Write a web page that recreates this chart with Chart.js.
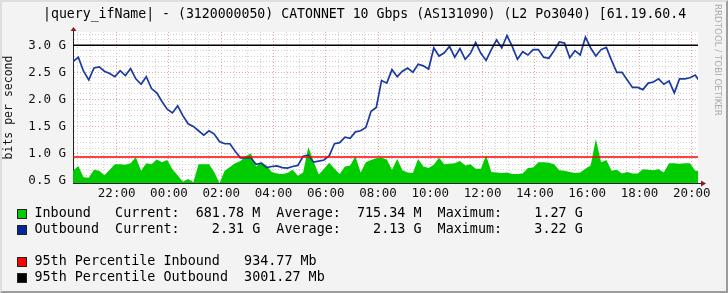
<!DOCTYPE html>
<html lang="en">
<head>
  <meta charset="UTF-8">
  <title>CATONNET 10 Gbps - traffic</title>
  <script src="https://cdn.jsdelivr.net/npm/chart.js"></script>
  <style>
    body {
      margin: 0;
      background-color: #f3f3f3;
    }
    .graph {
      position: relative;
      width: 728px;
      height: 293px;
      background-color: #f3f3f3;
      font-family: 'DejaVu Sans Mono', monospace;
      color: #000;
      overflow: hidden;
    }
    .graph canvas {
      position: absolute;
      left: 0;
      top: 0;
    }
    .frame {
      position: absolute;
      left: 0;
      top: 0;
      width: 728px;
      height: 293px;
      box-sizing: border-box;
      border-top: 2px solid #dedede;
      border-left: 2px solid #dedede;
      border-right: 2px solid #9c9c9c;
      border-bottom: 2px solid #9c9c9c;
      pointer-events: none;
    }
    .title {
      position: absolute;
      left: 43px;
      top: 6px;
      font-size: 13.2px;
      line-height: 16px;
      white-space: pre;
    }
    .credit {
      position: absolute;
      left: 713px;
      top: 4px;
      writing-mode: vertical-rl;
      font-family: 'DejaVu Sans', sans-serif;
      font-size: 8.7px;
      line-height: 10px;
      color: #ababab;
      white-space: pre;
    }
    .row {
      position: absolute;
      left: 0;
      height: 16px;
      width: 728px;
      font-size: 13.4px;
      line-height: 16px;
      white-space: pre;
    }
    .row .swatch {
      position: absolute;
      left: 17px;
      top: 4px;
      width: 8px;
      height: 8px;
      border: 1px solid #222;
    }
    .row .text {
      position: absolute;
      left: 34.5px;
      top: 0;
    }
  </style>
</head>
<body>
  <div class="graph">
    <canvas id="trafficChart" width="728" height="293"></canvas>
    <div class="title">|query_ifName| - (3120000050) CATONNET 10 Gbps (AS131090) (L2 Po3040) [61.19.60.4</div>
    <div class="credit">RRDTOOL / TOBI OETIKER</div>

    <div class="row" style="top:205px"><span class="swatch" style="background:#00cc00"></span><span class="text">Inbound   Current:  681.78 M  Average:  715.34 M  Maximum:    1.27 G</span></div>
    <div class="row" style="top:221px"><span class="swatch" style="background:#002a97"></span><span class="text">Outbound  Current:    2.31 G  Average:    2.13 G  Maximum:    3.22 G</span></div>
    <div class="row" style="top:253px"><span class="swatch" style="background:#ff0000"></span><span class="text">95th Percentile Inbound   934.77 Mb</span></div>
    <div class="row" style="top:269px"><span class="swatch" style="background:#000000"></span><span class="text">95th Percentile Outbound  3001.27 Mb</span></div>

    <div class="frame"></div>
  </div>

  <script>
    // samples every 12 minutes, first one at 20:20 (values in Gbit/s)
    const startMinute = 20 * 60 + 20;
    const stepMinutes = 12;

    const inbound = [
      0.68, 0.77, 0.56, 0.55, 0.70, 0.68, 0.60, 0.70, 0.80, 0.80,
      0.79, 0.82, 0.93, 0.68, 0.82, 0.80, 0.89, 0.84, 0.88, 0.71,
      0.60, 0.48, 0.53, 0.47, 0.80, 0.80, 0.80, 0.66, 0.45, 0.68,
      0.75, 0.82, 0.86, 0.95, 1.00, 0.76, 0.84, 0.78, 0.66, 0.63,
      0.62, 0.64, 0.70, 0.59, 0.65, 1.12, 0.85, 0.61, 0.72, 0.83,
      0.72, 0.62, 0.76, 0.78, 0.95, 0.65, 0.84, 0.88, 0.91, 0.92,
      0.89, 0.70, 0.90, 0.69, 0.65, 0.64, 0.90, 0.76, 0.73, 0.79,
      0.92, 0.80, 0.81, 0.82, 0.86, 0.78, 0.80, 0.72, 0.72, 0.97,
      0.66, 0.65, 0.64, 0.65, 0.62, 0.62, 0.63, 0.73, 0.74, 0.84,
      0.84, 0.83, 0.80, 0.69, 0.68, 0.66, 0.64, 0.65, 0.72, 0.78,
      1.27, 0.84, 0.88, 0.68, 0.70, 0.63, 0.66, 0.63, 0.63, 0.71,
      0.70, 0.69, 0.71, 0.65, 0.82, 0.82, 0.81, 0.82, 0.82, 0.68,
      0.68
    ];

    const outbound = [
      2.70, 2.78, 2.52, 2.36, 2.58, 2.60, 2.52, 2.48, 2.42, 2.53,
      2.44, 2.57, 2.38, 2.28, 2.42, 2.20, 2.12, 1.96, 1.82, 1.75,
      1.88, 1.70, 1.55, 1.50, 1.42, 1.34, 1.42, 1.36, 1.22, 1.18,
      1.18, 1.04, 0.92, 0.92, 0.92, 0.80, 0.82, 0.74, 0.76, 0.77,
      0.74, 0.73, 0.76, 0.78, 0.95, 0.97, 0.84, 0.86, 0.88, 0.96,
      1.18, 1.20, 1.30, 1.28, 1.40, 1.42, 1.48, 1.78, 1.85, 2.35,
      2.30, 2.55, 2.42, 2.52, 2.58, 2.50, 2.65, 2.62, 2.56, 2.95,
      2.80, 2.86, 2.98, 2.78, 2.94, 2.74, 2.85, 3.05, 2.85, 2.72,
      2.92, 3.10, 2.95, 3.18, 2.98, 2.74, 2.88, 2.82, 2.92, 2.92,
      2.78, 2.76, 2.90, 3.06, 3.04, 2.77, 2.90, 2.82, 3.15, 2.95,
      2.80, 2.92, 2.96, 2.72, 2.50, 2.50, 2.36, 2.22, 2.22, 2.18,
      2.30, 2.32, 2.38, 2.28, 2.34, 2.12, 2.38, 2.38, 2.40, 2.45,
      2.31
    ];

    // 95th percentile lines (Gbit/s)
    const p95Inbound = 0.93477;
    const p95Outbound = 3.00127;

    // axis labels
    const yTickValues = [0.5, 1.0, 1.5, 2.0, 2.5, 3.0];
    const yTickLabels = ['0.5 G', '1.0 G', '1.5 G', '2.0 G', '2.5 G', '3.0 G'];
    const xTickValues = [2, 4, 6, 8, 10, 12, 14, 16, 18, 20, 22, 24]; // hours after 20:00
    const xTickLabels = ['22:00', '00:00', '02:00', '04:00', '06:00', '08:00', '10:00', '12:00', '14:00', '16:00', '18:00', '20:00'];

    const X_MIN = 0.33, X_MAX = 24.24;
    const Y_MIN = 0.455, Y_MAX = 3.245;

    // hours after 20:00 for each sample
    const sampleHours = inbound.map((v, i) => (startMinute + i * stepMinutes) / 60 - 20);

    function toPoints(values) {
      return values.map((v, i) => ({ x: sampleHours[i], y: v }));
    }

    function findLabel(values, labels, v) {
      const k = values.findIndex(t => Math.abs(t - v) < 1e-6);
      return k >= 0 ? labels[k] : '';
    }

    const isMajorY = v => yTickValues.some(t => Math.abs(t - v) < 1e-6);
    const isMajorX = v => xTickValues.some(t => Math.abs(t - v) < 1e-6);

    const monoFont = { family: "'DejaVu Sans Mono', monospace", size: 12.5 };

    // white plot area like rrdtool's canvas
    const plotBackground = {
      id: 'plotBackground',
      beforeDraw(chart) {
        const { ctx, chartArea: a } = chart;
        ctx.save();
        ctx.fillStyle = '#ffffff';
        ctx.fillRect(a.left, a.top, a.right - a.left, a.bottom - a.top);
        ctx.restore();
      }
    };

    // little arrows at the end of both axes
    const axisArrows = {
      id: 'axisArrows',
      afterDraw(chart) {
        const { ctx, chartArea: a } = chart;
        const lx = Math.round(a.left) + 0.5;
        const by = Math.round(a.bottom) + 0.5;
        ctx.save();
        ctx.strokeStyle = '#222';
        ctx.lineWidth = 1;
        ctx.beginPath();
        ctx.moveTo(lx, a.top);
        ctx.lineTo(lx, a.top - 2);
        ctx.moveTo(a.right, by);
        ctx.lineTo(a.right + 3, by);
        ctx.stroke();
        ctx.fillStyle = '#8b1c1c';
        ctx.beginPath();
        ctx.moveTo(lx, a.top - 5);
        ctx.lineTo(lx - 3, a.top - 1);
        ctx.lineTo(lx + 3, a.top - 1);
        ctx.closePath();
        ctx.fill();
        ctx.beginPath();
        ctx.moveTo(a.right + 8, by);
        ctx.lineTo(a.right + 3, by - 3);
        ctx.lineTo(a.right + 3, by + 3);
        ctx.closePath();
        ctx.fill();
        ctx.restore();
      }
    };

    new Chart(document.getElementById('trafficChart'), {
      type: 'line',
      data: {
        datasets: [
          {
            label: '95th Percentile Outbound',
            data: [{ x: X_MIN, y: p95Outbound }, { x: X_MAX, y: p95Outbound }],
            borderColor: '#000000',
            borderWidth: 1.5,
            pointRadius: 0,
            fill: false,
            order: 0
          },
          {
            label: '95th Percentile Inbound',
            data: [{ x: X_MIN, y: p95Inbound }, { x: X_MAX, y: p95Inbound }],
            borderColor: '#ff0000',
            borderWidth: 1.5,
            pointRadius: 0,
            fill: false,
            order: 0
          },
          {
            label: 'Outbound',
            data: toPoints(outbound),
            borderColor: '#1a3aa3',
            borderWidth: 1.7,
            pointRadius: 0,
            tension: 0,
            fill: false,
            order: 1
          },
          {
            label: 'Inbound',
            data: toPoints(inbound),
            borderColor: 'rgba(0,0,0,0)',
            borderWidth: 0,
            backgroundColor: '#00cc00',
            pointRadius: 0,
            tension: 0,
            fill: 'start',
            order: 2
          }
        ]
      },
      options: {
        responsive: false,
        maintainAspectRatio: false,
        devicePixelRatio: 1,
        animation: false,
        events: [],
        layout: { padding: { left: 0, top: 32, right: 30, bottom: 0 } },
        plugins: {
          legend: { display: false },
          title: { display: false },
          tooltip: { enabled: false }
        },
        scales: {
          x: {
            type: 'linear',
            min: X_MIN,
            max: X_MAX,
            afterBuildTicks: scale => {
              const ticks = [];
              for (let h = 1; h <= 48; h++) ticks.push({ value: h / 2 });
              scale.ticks = ticks;
            },
            afterFit: scale => { scale.height = 110; },
            grid: {
              drawTicks: false,
              lineWidth: 1,
              color: ctx => isMajorX(ctx.tick.value) ? '#e9a3a3' : '#d2d2d2'
            },
            border: { display: true, color: '#222', width: 1, dash: [1, 2] },
            ticks: {
              autoSkip: false,
              maxRotation: 0,
              minRotation: 0,
              padding: 3,
              color: '#111',
              font: monoFont,
              callback: v => findLabel(xTickValues, xTickLabels, v)
            }
          },
          y: {
            type: 'linear',
            min: Y_MIN,
            max: Y_MAX,
            afterBuildTicks: scale => {
              const ticks = [];
              for (let k = 5; k <= 32; k++) ticks.push({ value: k / 10 });
              scale.ticks = ticks;
            },
            afterFit: scale => { scale.width = 73; },
            grid: {
              drawTicks: false,
              lineWidth: 1,
              color: ctx => isMajorY(ctx.tick.value) ? '#e9a3a3' : '#d2d2d2'
            },
            border: { display: true, color: '#222', width: 1, dash: [1, 2] },
            title: {
              display: true,
              text: 'bits per second',
              color: '#111',
              font: { family: "'DejaVu Sans Mono', monospace", size: 11.5 },
              padding: { top: 2, bottom: 2 }
            },
            ticks: {
              autoSkip: false,
              padding: 7,
              color: '#111',
              font: monoFont,
              callback: v => findLabel(yTickValues, yTickLabels, v)
            }
          }
        }
      },
      plugins: [plotBackground, axisArrows]
    });
  </script>
</body>
</html>
